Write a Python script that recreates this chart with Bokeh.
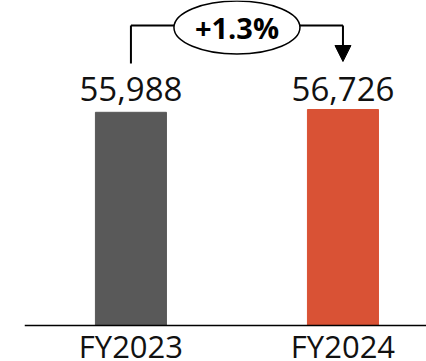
from bokeh.plotting import figure
from bokeh.models import ColumnDataSource, LabelSet, Arrow, NormalHead, Range1d, Span
from bokeh.core.properties import value
from bokeh.embed import file_html
from bokeh.resources import INLINE

# Annual totals
categories = ["FY2023", "FY2024"]
revenue = [55988, 56726]
bar_colors = ["#595959", "#D95235"]
change_text = "+1.3%"

W, H = 426, 361
LEFT = 24
BASE_PX = 325            # pixel row of the zero line
PX_PER_UNIT = 216.0 / max(revenue)
y_start = -(H - BASE_PX) / PX_PER_UNIT
y_end = BASE_PX / PX_PER_UNIT
xs = list(range(len(categories)))


def y_px(py):
    """Convert a pixel row (from the top of the canvas) into data units."""
    return (BASE_PX - py) / PX_PER_UNIT


p = figure(width=W, height=H, output_backend="svg", toolbar_location=None,
           x_range=Range1d(-0.502, 1.394), y_range=Range1d(y_start, y_end),
           x_axis_location=None, y_axis_location=None,
           min_border_left=LEFT, min_border_right=0, min_border_top=0,
           min_border_bottom=0)
p.grid.visible = False
p.outline_line_color = None
p.background_fill_color = "white"
p.border_fill_color = "white"

src = ColumnDataSource(dict(
    x=xs,
    top=revenue,
    color=bar_colors,
    value=[f"{v:,}" for v in revenue],
    cat=categories,
    vy=[y_px(100)] * len(xs),
    cy=[y_px(357)] * len(xs),
))

p.vbar(x="x", top="top", bottom=0, width=0.335, color="color", source=src)

# zero line along the category axis
p.add_layout(Span(location=0, dimension="width", line_color="black", line_width=1.5))

FONT = value("Open Sans")
p.add_layout(LabelSet(x="x", y="vy", text="value", source=src,
                      text_align="center", text_baseline="alphabetic",
                      text_font=FONT, text_font_size="33px", text_color="#111111"))
p.add_layout(LabelSet(x="x", y="cy", text="cat", source=src,
                      text_align="center", text_baseline="alphabetic",
                      text_font=FONT, text_font_size="31px", text_color="#111111"))

# change connector between the two bars
mid = (xs[0] + xs[1]) / 2
y_line = y_px(25)
p.segment(x0=[xs[0], xs[0]], y0=[y_px(63), y_line],
          x1=[xs[0], xs[1]], y1=[y_line, y_line],
          line_color="black", line_width=2)
p.ellipse(x=[mid], y=[y_px(27)], width=126, height=53,
          width_units="screen", height_units="screen",
          fill_color="white", line_color="black", line_width=1.5)
p.add_layout(Arrow(end=NormalHead(size=16, fill_color="black", line_color="black"),
                   x_start=xs[1], y_start=y_line, x_end=xs[1], y_end=y_px(61),
                   line_color="black", line_width=2))
p.text(x=[mid], y=[y_px(27)], text=[change_text],
       text_align="center", text_baseline="middle",
       text_font=FONT, text_font_style="bold", text_font_size="29px",
       text_color="black")

open("out.html", "w").write(file_html(p, INLINE))
